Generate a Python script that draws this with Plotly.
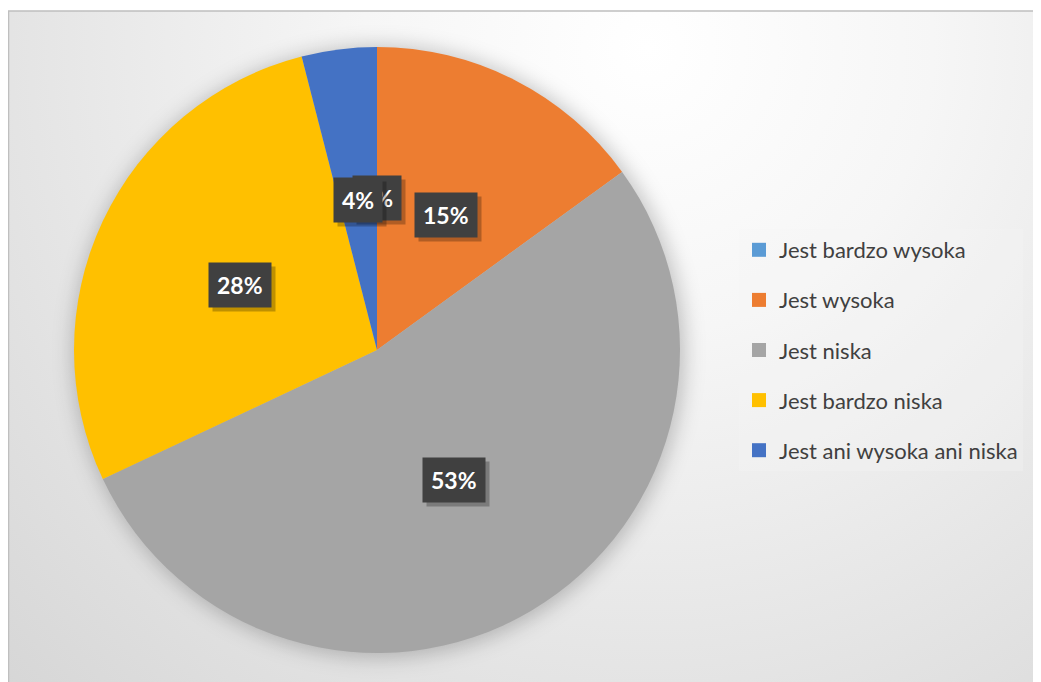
import base64
import math
import plotly.graph_objects as go

# ---- data ----
categories = ["Jest bardzo wysoka", "Jest wysoka", "Jest niska", "Jest bardzo niska", "Jest ani wysoka ani niska"]
values = [0, 15, 53, 28, 4]
colors = ["#5B9BD5", "#ED7D31", "#A5A5A5", "#FFC000", "#4472C4"]

W, H = 1041, 682
OX, OY = 8, 8  # page body margin offset
# pie geometry (pixels, in figure coordinates)
cx, cy, r = 377 - OX, 350 - OY, 303
dom_x = [(cx - r) / W, (cx + r) / W]
dom_y = [(H - (cy + r)) / H, (H - (cy - r)) / H]

# background: soft radial gradient + pie glow
bx, by = 8 - OX, 11 - OY
bw, bh = W - bx, H - by
svg = f'''<svg xmlns="http://www.w3.org/2000/svg" width="{bw}" height="{bh}" viewBox="0 0 {bw} {bh}">
<defs>
<radialGradient id="g" gradientUnits="userSpaceOnUse" cx="{640-bx}" cy="{40-by}" r="950">
<stop offset="0" stop-color="#ffffff"/>
<stop offset="0.3" stop-color="#f6f6f6"/>
<stop offset="1" stop-color="#d4d4d4"/>
</radialGradient>
<filter id="b" x="-30%" y="-30%" width="160%" height="160%"><feGaussianBlur stdDeviation="10"/></filter>
</defs>
<rect x="0" y="0" width="{bw}" height="{bh}" fill="url(#g)"/>
<circle cx="{cx-bx+2}" cy="{cy-by+2}" r="{r+3}" fill="#000" fill-opacity="0.22" filter="url(#b)"/>
</svg>'''
src = "data:image/svg+xml;base64," + base64.b64encode(svg.encode()).decode()

fig = go.Figure()
fig.add_trace(go.Pie(
    labels=categories, values=values, sort=False, direction="clockwise", rotation=0,
    marker=dict(colors=colors, line=dict(width=0)),
    textinfo="none", hoverinfo="label+percent", showlegend=False,
    domain=dict(x=dom_x, y=dom_y),
))

# legend entries
for c, col in zip(categories, colors):
    fig.add_trace(go.Scatter(x=[None], y=[None], mode="markers", name=c, legendgroup=c,
                             marker=dict(symbol="square", size=14, color=col)))

# data labels in dark boxes
total = sum(values)
annotations = []
cum = 0
for v in values:
    mid = (cum + v / 2) / total * 2 * math.pi
    cum += v
    px = cx + 0.5 * r * math.sin(mid)
    py = cy - 0.5 * r * math.cos(mid)
    txt = f"{round(v / total * 100)}%"
    common = dict(x=px / W, y=1 - py / H, xref="paper", yref="paper", showarrow=False,
                  xanchor="center", yanchor="middle",
                  text=f"<b>{txt}</b>", borderpad=8,
                  font=dict(family="Lato, Noto Sans, sans-serif", size=23))
    annotations.append(dict(common, xshift=4, yshift=-4, bgcolor="rgba(0,0,0,0.25)",
                            font=dict(common["font"], color="rgba(0,0,0,0)")))
    annotations.append(dict(common, bgcolor="#404040", font=dict(common["font"], color="#ffffff")))

fig.update_layout(
    width=W, height=H,
    margin=dict(l=0, r=0, t=0, b=0),
    paper_bgcolor="#ffffff", plot_bgcolor="rgba(0,0,0,0)",
    xaxis=dict(visible=False), yaxis=dict(visible=False),
    images=[dict(source=src, xref="paper", yref="paper", x=bx / W, y=1 - by / H,
                 sizex=bw / W, sizey=bh / H, sizing="stretch", xanchor="left", yanchor="top",
                 layer="below")],
    shapes=[dict(type="rect", xref="paper", yref="paper", x0=bx / W + 0.0005, y0=-0.01, x1=1.01, y1=1 - by / H,
                 line=dict(color="#bfbfbf", width=1.5), fillcolor="rgba(0,0,0,0)")],
    annotations=annotations,
    legend=dict(x=(739 - OX) / W, y=1 - (229 - OY) / H, xanchor="left", yanchor="top",
                bgcolor="rgba(245,245,245,0.3)", tracegroupgap=18.5,
                font=dict(family="Lato, Noto Sans, sans-serif", size=22, color="#404040")),
)

fig.write_html("out.html")
